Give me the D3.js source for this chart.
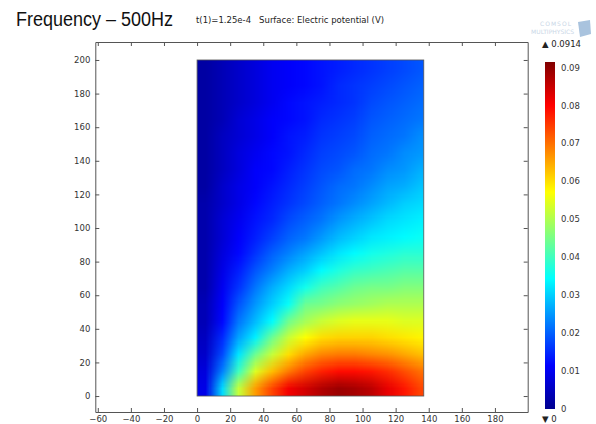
<!DOCTYPE html>
<html>
<head>
<meta charset="utf-8">
<script src="https://cdn.jsdelivr.net/npm/d3@7"></script>
<style>
  body { margin: 0; background: #fff; }
</style>
</head>
<body>
<script>
const width = 596;
const height = 424;

// axis ticks
const xTicks = [-60, -40, -20, 0, 20, 40, 60, 80, 100, 120, 140, 160, 180];
const yTicks = [0, 20, 40, 60, 80, 100, 120, 140, 160, 180, 200];
const barTicks = [0, 0.01, 0.02, 0.03, 0.04, 0.05, 0.06, 0.07, 0.08, 0.09];
const vMin = 0, vMax = 0.0914;
const domainW = 137, domainH = 200;

// cell centres (mm) of the sampled potential grid
const xCells = [5, 15, 25, 35, 45, 55, 65, 75, 85, 95, 105, 115, 125, 135];
const yCells = [5, 15, 25, 35, 45, 55, 65, 75, 85, 95, 105, 115, 125, 135, 145, 155, 165, 175, 185, 195];

// potential (V), one row per yCells entry
const potential = [
  [0.009, 0.031, 0.052, 0.066, 0.074, 0.081, 0.084, 0.087, 0.089, 0.088, 0.086, 0.082, 0.078, 0.074],
  [0.008, 0.023, 0.040, 0.054, 0.063, 0.069, 0.074, 0.077, 0.079, 0.079, 0.078, 0.076, 0.073, 0.070],
  [0.006, 0.018, 0.032, 0.044, 0.052, 0.060, 0.065, 0.068, 0.069, 0.069, 0.068, 0.067, 0.065, 0.063],
  [0.005, 0.015, 0.026, 0.033, 0.044, 0.052, 0.057, 0.060, 0.061, 0.061, 0.061, 0.060, 0.059, 0.058],
  [0.004, 0.012, 0.022, 0.028, 0.034, 0.044, 0.049, 0.052, 0.054, 0.055, 0.055, 0.055, 0.054, 0.054],
  [0.004, 0.011, 0.019, 0.025, 0.030, 0.035, 0.044, 0.045, 0.047, 0.048, 0.049, 0.050, 0.050, 0.050],
  [0.003, 0.010, 0.016, 0.022, 0.027, 0.031, 0.036, 0.040, 0.042, 0.044, 0.045, 0.045, 0.046, 0.046],
  [0.003, 0.009, 0.014, 0.019, 0.023, 0.027, 0.030, 0.034, 0.037, 0.039, 0.040, 0.041, 0.042, 0.042],
  [0.003, 0.008, 0.012, 0.016, 0.020, 0.023, 0.026, 0.029, 0.032, 0.034, 0.036, 0.037, 0.038, 0.038],
  [0.003, 0.007, 0.011, 0.014, 0.017, 0.020, 0.022, 0.025, 0.028, 0.030, 0.032, 0.033, 0.034, 0.035],
  [0.003, 0.007, 0.010, 0.013, 0.015, 0.018, 0.020, 0.022, 0.025, 0.027, 0.029, 0.031, 0.032, 0.033],
  [0.003, 0.006, 0.009, 0.012, 0.014, 0.016, 0.018, 0.020, 0.022, 0.024, 0.026, 0.028, 0.030, 0.031],
  [0.002, 0.006, 0.009, 0.011, 0.013, 0.015, 0.017, 0.019, 0.021, 0.022, 0.024, 0.026, 0.027, 0.029],
  [0.002, 0.005, 0.008, 0.011, 0.012, 0.014, 0.016, 0.018, 0.019, 0.021, 0.022, 0.024, 0.025, 0.027],
  [0.002, 0.005, 0.008, 0.010, 0.012, 0.013, 0.015, 0.017, 0.018, 0.019, 0.021, 0.022, 0.024, 0.025],
  [0.002, 0.005, 0.007, 0.009, 0.011, 0.013, 0.014, 0.016, 0.017, 0.018, 0.020, 0.021, 0.022, 0.024],
  [0.002, 0.004, 0.007, 0.009, 0.011, 0.012, 0.013, 0.015, 0.016, 0.017, 0.019, 0.020, 0.021, 0.022],
  [0.002, 0.004, 0.006, 0.008, 0.010, 0.012, 0.013, 0.014, 0.015, 0.016, 0.018, 0.019, 0.020, 0.021],
  [0.002, 0.004, 0.006, 0.008, 0.010, 0.011, 0.012, 0.013, 0.015, 0.016, 0.017, 0.018, 0.019, 0.020],
  [0.002, 0.004, 0.006, 0.008, 0.010, 0.011, 0.012, 0.013, 0.014, 0.015, 0.016, 0.017, 0.018, 0.019]
];

const svg = d3.select('body').append('svg')
  .attr('width', width)
  .attr('height', height)
  .attr('xmlns', 'http://www.w3.org/2000/svg')
  .attr('font-family', 'DejaVu Sans, sans-serif');

svg.append('rect').attr('width', width).attr('height', height).attr('fill', '#fff');

// scales
const x = d3.scaleLinear().domain([-61.5, 199.8]).range([95.3, 527.7]);
const y = d3.scaleLinear().domain([-9.5, 210.7]).range([412, 42]);

// COMSOL "rainbow" (jet-like) colour table
const jetStops = [0, 0.125, 0.375, 0.625, 0.875, 1];
const color = d3.scaleLinear()
  .domain(jetStops.map(f => vMin + f * (vMax - vMin)))
  .range(['#00008f', '#0000ff', '#00ffff', '#ffff00', '#ff0000', '#800000'])
  .clamp(true);

// heat map: one pixel per cell, stretched (smoothed) over the domain
const cellW = xCells[1] - xCells[0];
const cellH = yCells[1] - yCells[0];
const canvas = document.createElement('canvas');
canvas.width = xCells.length;
canvas.height = yCells.length;
const ctx = canvas.getContext('2d');
potential.forEach((row, j) => {
  row.forEach((v, i) => {
    ctx.fillStyle = color(v);
    ctx.fillRect(i, yCells.length - 1 - j, 1, 1);
  });
});

svg.append('clipPath').attr('id', 'dom')
  .append('rect')
  .attr('x', x(0)).attr('y', y(domainH))
  .attr('width', x(domainW) - x(0)).attr('height', y(0) - y(domainH));

const x0 = xCells[0] - cellW / 2, x1 = xCells[xCells.length - 1] + cellW / 2;
const y0 = yCells[0] - cellH / 2, y1 = yCells[yCells.length - 1] + cellH / 2;
svg.append('image')
  .attr('href', canvas.toDataURL())
  .attr('x', x(x0)).attr('y', y(y1))
  .attr('width', x(x1) - x(x0)).attr('height', y(y0) - y(y1))
  .attr('preserveAspectRatio', 'none')
  .attr('clip-path', 'url(#dom)');

svg.append('rect')
  .attr('x', x(0)).attr('y', y(domainH))
  .attr('width', x(domainW) - x(0)).attr('height', y(0) - y(domainH))
  .attr('fill', 'none').attr('stroke', '#555').attr('stroke-width', 0.8);

// frame axes, ticks pointing inwards
function styleAxis(g) {
  g.attr('font-family', 'DejaVu Sans, sans-serif').attr('font-size', 8.5);
  g.select('.domain').attr('stroke', '#555');
  g.selectAll('.tick line').attr('stroke', '#555');
  g.selectAll('.tick text').attr('fill', '#333');
}
svg.append('g').attr('transform', `translate(0,${y.range()[0]})`)
  .call(d3.axisBottom(x).tickValues(xTicks).tickSize(-4).tickSizeOuter(0).tickPadding(4))
  .call(styleAxis);
svg.append('g').attr('transform', `translate(0,${y.range()[1]})`)
  .call(d3.axisTop(x).tickValues(xTicks).tickSize(-4).tickSizeOuter(0).tickFormat(''))
  .call(styleAxis);
svg.append('g').attr('transform', `translate(${x.range()[0]},0)`)
  .call(d3.axisLeft(y).tickValues(yTicks).tickSize(-4).tickSizeOuter(0).tickPadding(5))
  .call(styleAxis);
svg.append('g').attr('transform', `translate(${x.range()[1]},0)`)
  .call(d3.axisRight(y).tickValues(yTicks).tickSize(-4).tickSizeOuter(0).tickFormat(''))
  .call(styleAxis);

// colour bar
const c = d3.scaleLinear().domain([vMin, vMax]).range([409, 62]);
const grad = svg.append('defs').append('linearGradient')
  .attr('id', 'jet').attr('x1', 0).attr('y1', 1).attr('x2', 0).attr('y2', 0);
grad.selectAll('stop').data(jetStops).enter().append('stop')
  .attr('offset', d => d)
  .attr('stop-color', d => color(vMin + d * (vMax - vMin)));
svg.append('rect')
  .attr('x', 545).attr('y', c(vMax))
  .attr('width', 10).attr('height', c(vMin) - c(vMax))
  .attr('fill', 'url(#jet)');
svg.append('g').attr('transform', 'translate(555,0)')
  .call(d3.axisRight(c).tickValues(barTicks).tickSize(0).tickPadding(6).tickFormat(d3.format('')))
  .call(g => g.select('.domain').remove())
  .call(styleAxis);

svg.append('text').attr('x', 542).attr('y', 47).attr('font-size', 8.5).attr('fill', '#222')
  .text('\u25B2 ' + vMax);
svg.append('text').attr('x', 542).attr('y', 422).attr('font-size', 8.5).attr('fill', '#222')
  .text('\u25BC ' + vMin);

// titles
svg.append('text').attr('x', 16).attr('y', 26)
  .attr('font-family', 'Liberation Sans, Arial, sans-serif').attr('font-size', 20)
  .attr('textLength', 157).attr('lengthAdjust', 'spacingAndGlyphs')
  .attr('fill', '#111').text('Frequency \u2013 500Hz');
svg.append('text').attr('x', 196).attr('y', 23)
  .attr('font-size', 8.2).attr('fill', '#222')
  .attr('textLength', 188).attr('lengthAdjust', 'spacingAndGlyphs')
  .attr('xml:space', 'preserve')
  .text('t(1)=1.25e-4   Surface: Electric potential (V)');

// faint COMSOL mark
svg.append('text').attr('x', 572).attr('y', 26).attr('text-anchor', 'end')
  .attr('font-size', 6).attr('fill', '#c9d6e6').attr('letter-spacing', 1).text('COMSOL');
svg.append('text').attr('x', 574).attr('y', 34).attr('text-anchor', 'end')
  .attr('font-size', 6).attr('fill', '#c9d6e6').text('MULTIPHYSICS');
svg.append('path')
  .attr('d', 'M578,22 L590,20 L591,34 L580,37 Z')
  .attr('fill', '#a9c3de');
</script>
</body>
</html>
